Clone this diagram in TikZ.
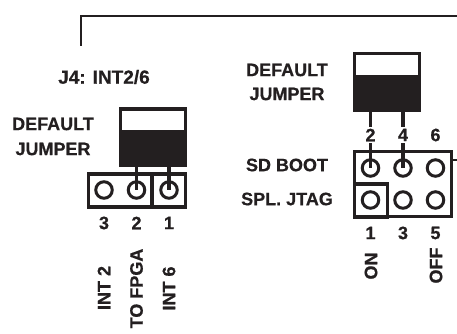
\documentclass[tikz,border=0pt]{standalone}
\usepackage{fontspec}
\setmainfont{Liberation Sans}[BoldFeatures={FakeBold=0.6}]
\definecolor{ink}{HTML}{231F20}
\tikzset{
  x=1pt,y=-1pt,
  lbl/.style={font=\fontsize{18}{20}\selectfont\bfseries,text=ink,inner sep=0pt,align=center},
  rotlbl/.style={lbl,rotate=90},
  wire/.style={draw=ink,line width=2.4pt},
  boxln/.style={draw=ink,line width=3.1pt},
  pin/.style={circle,draw=ink,line width=3pt,minimum size=16.5pt,inner sep=0pt},
  lead/.style={draw=ink,line width=3.1pt},
  area/.style={rectangle,inner sep=0pt,outer sep=0pt}
}
\begin{document}
\begin{tikzpicture}
\useasboundingbox (0,0) rectangle (457,334);
% top bracket
\coordinate (bA) at (81,46);
\coordinate (bB) at (81,16);
\coordinate (bC) at (457,16);
\draw[wire] (bA) -- (bB) -- (bC);
\node[lbl,font=\fontsize{19}{21}\selectfont\bfseries] (j4) at (104,77) {J4: INT2/6};
% left jumper
\node[area,boxln,minimum width=65pt,minimum height=23pt] (ljt) at (152.7,120.5) {};
\node[area,fill=ink,minimum width=68pt,minimum height=35.5pt] (ljb) at (152.7,149) {};
\node[lbl] (ld) at (53,124) {DEFAULT};
\node[lbl] (lj) at (53,149) {JUMPER};
% left header
\node[area,boxln,minimum width=97pt,minimum height=33pt] (lh) at (137,190.5) {};
\coordinate (ldt) at (152,174);
\coordinate (ldb) at (152,207);
\draw[boxln] (ldt) -- (ldb);
\node[pin] (l3) at (104,190) {};
\node[pin] (l2) at (136.5,190) {};
\node[pin] (l1) at (169,190) {};
\coordinate (lp2) at (136.5,166);
\coordinate (lp1) at (169,166);
\draw[lead] (lp2) -- (l2.center);
\draw[lead] (lp1) -- (l1.center);
\node[lbl] (n3) at (104,223) {3};
\node[lbl] (n2) at (136.5,223) {2};
\node[lbl] (n1) at (169,223) {1};
\node[rotlbl] (t1) at (104,288) {INT 2};
\node[rotlbl] (t2) at (136.5,288.5) {TO FPGA};
\node[rotlbl] (t3) at (169,288.5) {INT 6};
% right jumper
\node[area,boxln,minimum width=65pt,minimum height=23pt] (rjt) at (387,65) {};
\node[area,fill=ink,minimum width=68pt,minimum height=35.5pt] (rjb) at (387,94.5) {};
\node[lbl] (rd) at (287,70) {DEFAULT};
\node[lbl] (rj) at (287,94) {JUMPER};
% right header
\node[area,boxln,minimum width=97pt,minimum height=65pt] (rh) at (403,184) {};
\node[area,boxln,minimum width=33pt,minimum height=33pt] (rb) at (371,200.5) {};
\coordinate (tA) at (452,160);
\coordinate (tB) at (457,160);
\draw[draw=ink,line width=1.6pt] (tA) -- (tB);
\node[pin] (r2) at (370.5,168) {};
\node[pin] (r4) at (403,168) {};
\node[pin] (r6) at (435.5,168) {};
\node[pin] (r1) at (370.5,200) {};
\node[pin] (r3) at (403,200) {};
\node[pin] (r5) at (435.5,200) {};
\node[lbl] (m2) at (370.5,135) {2};
\node[lbl] (m4) at (403,135) {4};
\node[lbl] (m6) at (435.5,135) {6};
\coordinate (a2) at (370.5,112);
\coordinate (b2) at (370.5,127);
\coordinate (c2) at (370.5,143);
\coordinate (a4) at (403,112);
\coordinate (b4) at (403,127);
\coordinate (c4) at (403,143);
\draw[lead] (a2) -- (b2);
\draw[lead] (c2) -- (r2.center);
\draw[lead] (a4) -- (b4);
\draw[lead] (c4) -- (r4.center);
\node[lbl] (m1) at (370.5,233) {1};
\node[lbl] (m3) at (403,233) {3};
\node[lbl] (m5) at (435.5,233) {5};
\node[lbl] (sd) at (287,165) {SD BOOT};
\node[lbl] (spl) at (287,199) {SPL. JTAG};
\node[rotlbl] (on) at (371,266) {ON};
\node[rotlbl] (off) at (436,265.5) {OFF};
\end{tikzpicture}
\end{document}
